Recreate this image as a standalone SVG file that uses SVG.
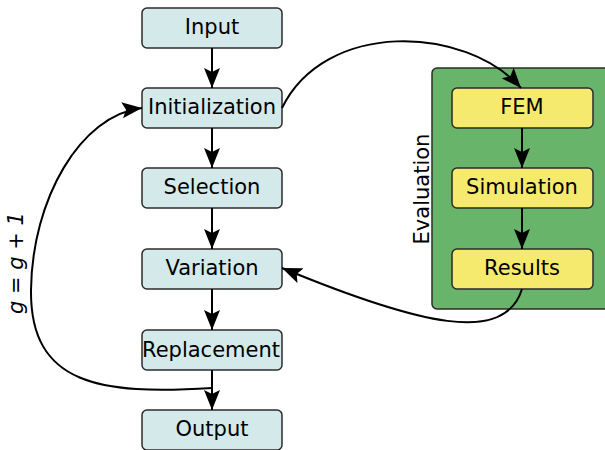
<svg xmlns="http://www.w3.org/2000/svg" width="605" height="450" viewBox="0 0 605 450">
<defs>
<marker id="ah" viewBox="0 0 20 16" refX="20" refY="8" markerWidth="20" markerHeight="16" markerUnits="userSpaceOnUse" orient="auto">
<path d="M0,0 L20,8 L0,16 L4,8 Z" fill="#000"/>
</marker>
</defs>
<style>
.n rect{fill:#d4e9ea;stroke:#2b2b2b;stroke-width:1.5}
.y rect{fill:#f6ea6e;stroke:#2b2b2b;stroke-width:1.5}
text{font-family:"DejaVu Sans",sans-serif;font-size:21px;fill:#000;text-anchor:middle;dominant-baseline:central}
.c path{fill:none;stroke:#000;stroke-width:2;marker-end:url(#ah)}
</style>
<g id="evaluation">
<rect x="432" y="68" width="185" height="241" rx="5" fill="#67b46a" stroke="#2b2b2b" stroke-width="1.5"/>
<text transform="translate(422,189) rotate(-90)">Evaluation</text>
</g>
<g id="input" class="n"><rect x="142" y="8" width="140" height="40" rx="5"/><text x="212" y="27">Input</text></g>
<g id="initialization" class="n"><rect x="142" y="88" width="140" height="40" rx="5"/><text x="212" y="107">Initialization</text></g>
<g id="selection" class="n"><rect x="142" y="168" width="140" height="40" rx="5"/><text x="212" y="187">Selection</text></g>
<g id="variation" class="n"><rect x="142" y="249" width="140" height="40" rx="5"/><text x="212" y="268">Variation</text></g>
<g id="replacement" class="n"><rect x="142" y="330" width="140" height="40" rx="5"/><text x="211" y="350">Replacement</text></g>
<g id="output" class="n"><rect x="142" y="410" width="140" height="40" rx="5"/><text x="212" y="429">Output</text></g>
<g id="fem" class="y"><rect x="452" y="88" width="141" height="40" rx="5"/><text x="522" y="107">FEM</text></g>
<g id="simulation" class="y"><rect x="452" y="168" width="141" height="40" rx="5"/><text x="522" y="187">Simulation</text></g>
<g id="results" class="y"><rect x="452" y="249" width="141" height="40" rx="5"/><text x="522" y="268">Results</text></g>
<g id="loop-label"><text transform="translate(16,263) rotate(-90)" font-style="italic">g = g + 1</text></g>
<g id="connectors" class="c">
<path d="M212,48 L212,88"/>
<path d="M212,128 L212,168"/>
<path d="M212,208 L212,249"/>
<path d="M212,289 L212,330"/>
<path d="M212,370 L212,410"/>
<path d="M522,128 L522,168"/>
<path d="M522,208 L522,249"/>
<path d="M282,108 C325,20 465,25 521,88"/>
<path d="M522,289 C505,345 420,325 282,268"/>
<path d="M212,388 C100,395 30,385 31,290 C32,200 80,115 142,108"/>
</g>
</svg>
